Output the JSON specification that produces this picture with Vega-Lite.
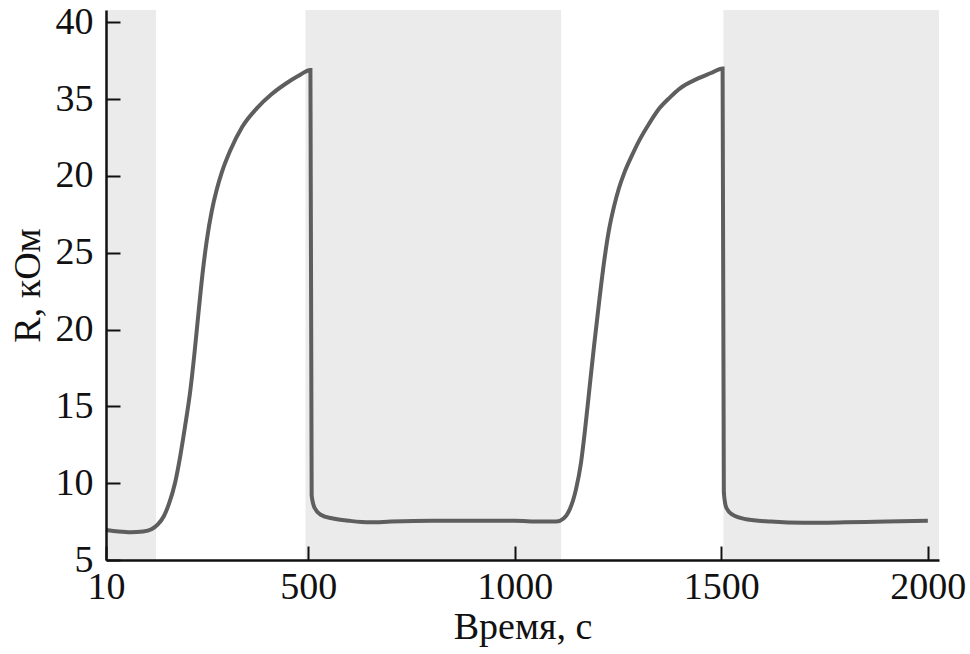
{
  "$schema": "https://vega.github.io/schema/vega-lite/v6.json",
  "width": 970,
  "height": 654,
  "autosize": {"type": "fit", "contains": "padding"},
  "padding": {"left": 9, "top": 5, "right": 5, "bottom": 8},
  "background": "white",
  "config": {
    "view": {"stroke": null},
    "font": "Liberation Serif"
  },
  "datasets": {
    "bands": [
      {"start": 10, "end": 131},
      {"start": 493, "end": 1112},
      {"start": 1505, "end": 2027}
    ],
    "curve": [
      {"t": 10, "R": 6.95}, {"t": 40, "R": 6.85}, {"t": 70, "R": 6.8}, {"t": 100, "R": 6.85},
      {"t": 120, "R": 7.0}, {"t": 135, "R": 7.3}, {"t": 150, "R": 7.85}, {"t": 163, "R": 8.7},
      {"t": 177, "R": 10.0}, {"t": 190, "R": 11.8}, {"t": 202, "R": 13.8}, {"t": 214, "R": 16.0},
      {"t": 224, "R": 18.4}, {"t": 234, "R": 21.1}, {"t": 244, "R": 23.7}, {"t": 254, "R": 25.8},
      {"t": 266, "R": 27.7}, {"t": 278, "R": 29.1}, {"t": 290, "R": 30.2}, {"t": 310, "R": 31.6},
      {"t": 340, "R": 33.2}, {"t": 375, "R": 34.4}, {"t": 410, "R": 35.3}, {"t": 445, "R": 36.0},
      {"t": 475, "R": 36.5}, {"t": 505, "R": 36.9},
      {"t": 508, "R": 9.2}, {"t": 515, "R": 8.4}, {"t": 530, "R": 7.95}, {"t": 560, "R": 7.7},
      {"t": 600, "R": 7.55}, {"t": 650, "R": 7.45}, {"t": 700, "R": 7.5}, {"t": 800, "R": 7.55},
      {"t": 900, "R": 7.55}, {"t": 1000, "R": 7.55}, {"t": 1060, "R": 7.5}, {"t": 1100, "R": 7.5},
      {"t": 1118, "R": 7.7}, {"t": 1133, "R": 8.3}, {"t": 1148, "R": 9.6}, {"t": 1160, "R": 11.3},
      {"t": 1170, "R": 13.5}, {"t": 1180, "R": 16.0}, {"t": 1192, "R": 19.0}, {"t": 1204, "R": 21.8},
      {"t": 1216, "R": 24.4}, {"t": 1228, "R": 26.5}, {"t": 1240, "R": 28.0}, {"t": 1252, "R": 29.2},
      {"t": 1265, "R": 30.2}, {"t": 1283, "R": 31.3}, {"t": 1301, "R": 32.3}, {"t": 1325, "R": 33.4},
      {"t": 1350, "R": 34.4}, {"t": 1375, "R": 35.1}, {"t": 1400, "R": 35.7}, {"t": 1440, "R": 36.3},
      {"t": 1475, "R": 36.7}, {"t": 1503, "R": 37.0},
      {"t": 1506, "R": 9.4}, {"t": 1512, "R": 8.4}, {"t": 1527, "R": 7.95}, {"t": 1560, "R": 7.65},
      {"t": 1620, "R": 7.5}, {"t": 1700, "R": 7.42}, {"t": 1800, "R": 7.45}, {"t": 1900, "R": 7.5},
      {"t": 2000, "R": 7.55}
    ]
  },
  "layer": [
    {
      "data": {"name": "bands"},
      "mark": {"type": "rect", "color": "#ebebeb"},
      "encoding": {
        "x": {"field": "start", "type": "quantitative", "scale": {"domain": [10, 2027], "nice": false, "zero": false}},
        "x2": {"field": "end"}
      }
    },
    {
      "data": {"name": "curve"},
      "mark": {"type": "line", "color": "#5e5e5e", "strokeWidth": 4, "interpolate": "monotone"},
      "encoding": {
        "x": {
          "field": "t", "type": "quantitative",
          "scale": {"domain": [10, 2027], "nice": false, "zero": false},
          "axis": {
            "title": "Время, с",
            "zindex": 1,
            "values": [10, 500, 1000, 1500, 2000],
            "format": "d",
            "grid": false,
            "domainColor": "#111", "domainWidth": 2.5,
            "tickColor": "#111", "tickWidth": 2, "tickSize": -14,
            "labelFont": "Liberation Serif", "labelFontSize": 38, "labelColor": "#111",
            "labelPadding": 22, "labelFlush": false, "labelOverlap": false,
            "titleFont": "Liberation Serif", "titleFontSize": 38, "titleFontWeight": "normal", "titleColor": "#111",
            "titlePadding": 2
          }
        },
        "y": {
          "field": "R", "type": "quantitative",
          "scale": {"domain": [5, 40.8], "nice": false, "zero": false},
          "axis": {
            "title": "R, кОм",
            "zindex": 1,
            "values": [5, 10, 15, 20, 25, 30, 35, 40],
            "labelExpr": "datum.value == 30 ? '20' : datum.label",
            "grid": false,
            "domainColor": "#111", "domainWidth": 2.5,
            "tickColor": "#111", "tickWidth": 2, "tickSize": -14,
            "labelFont": "Liberation Serif", "labelFontSize": 38, "labelColor": "#111",
            "labelPadding": 27, "labelFlush": false, "labelOverlap": false,
            "titleFont": "Liberation Serif", "titleFontSize": 38, "titleFontWeight": "normal", "titleColor": "#111",
            "titlePadding": 8
          }
        }
      }
    }
  ]
}
